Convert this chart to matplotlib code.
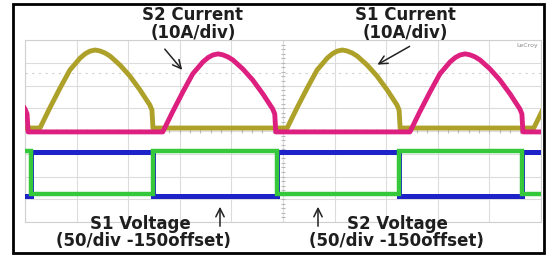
import numpy as np
import matplotlib
matplotlib.use('Agg')
import matplotlib.pyplot as plt
from matplotlib.patches import Rectangle, FancyArrowPatch

W, H = 549, 256

# Oscilloscope screen: 10 horizontal x 8 vertical divisions
n_xdiv, n_ydiv = 10, 8

# Current pulse shape (offset from pulse start in div, height in div)
pulse_t = [0.0, 0.19, 0.39, 0.58, 0.78, 0.88, 0.97, 1.07, 1.16, 1.26, 1.36, 1.55, 1.74, 1.94, 2.13, 2.17, 2.19]
pulse_a = [0.0, 0.88, 1.76, 2.55, 3.08, 3.27, 3.38, 3.43, 3.39, 3.30, 3.16, 2.77, 2.29, 1.67, 1.01, 0.79, 0.0]

# S1 current (yellow) and S2 current (magenta): pulse start times (div) and zero levels (div)
yellow_starts = [0.29, 5.08, 9.86]
magenta_starts = [-2.13, 2.67, 7.46]
yellow_base = 4.13
magenta_base = 3.96

# Switch voltages: switching instants (div) and levels (div)
switch_times = [0.12, 2.48, 4.88, 7.25, 9.63]
blue_levels = [1.14, 3.08]   # low, high
green_levels = [1.23, 3.13]
blue_start_state = 0
green_start_state = 1

# Annotation texts
labels_top = [("S2 Current", "(10A/div)"), ("S1 Current", "(10A/div)")]
labels_bottom = [("S1 Voltage", "(50/div -150offset)"), ("S2 Voltage", "(50/div -150offset)")]

YELLOW = '#ADA12A'
MAGENTA = '#DD1F80'
BLUE = '#1D22C9'
GREEN = '#35C83A'
TXT = '#1e1e1e'


def current_trace(starts, base):
    t = [-3.0]
    v = [base]
    for s in starts:
        t += [s + o for o in pulse_t]
        v += [base + a for a in pulse_a]
    t.append(11.0)
    v.append(base)
    return t, v


def step_trace(times, levels, state):
    t = [-1.0]
    v = [levels[state]]
    for s in times:
        t += [s, s]
        v += [levels[state], levels[1 - state]]
        state = 1 - state
    t.append(11.0)
    v.append(levels[state])
    return t, v


fig = plt.figure(figsize=(W / 100, H / 100), dpi=100)
fig.patch.set_facecolor('white')

# Scope grid axes (pixel box 25..541 x 40..222)
ax = fig.add_axes([25 / W, 1 - 222 / H, 516 / W, 182 / H])
ax.set_xlim(0, n_xdiv)
ax.set_ylim(0, n_ydiv)
ax.set_xticks(range(n_xdiv + 1))
ax.set_yticks(range(n_ydiv + 1))
ax.tick_params(length=0, labelbottom=False, labelleft=False)
ax.grid(True, color='#dcdcdc', lw=0.8)
for sp in ax.spines.values():
    sp.set_color('#d0d0d0')
    sp.set_linewidth(0.8)
ax.set_axisbelow(True)

# center crosshair tick marks
yt = np.arange(0, n_ydiv + 0.01, 0.2)
ax.plot([n_xdiv / 2] * len(yt), yt, ls='none', marker='_', ms=3.5, mew=0.8, color='#b8b8b8', zorder=1)
xt = np.arange(0, n_xdiv + 0.01, 0.2)
ax.plot(xt, [n_ydiv / 2] * len(xt), ls='none', marker='|', ms=3.5, mew=0.8, color='#b8b8b8', zorder=1)
ax.axhline(6.55, color='#cfcfcf', lw=0.8, dashes=(2, 4), zorder=1)

# traces
bt, bv = step_trace(switch_times, blue_levels, blue_start_state)
gt, gv = step_trace(switch_times, green_levels, green_start_state)
ax.plot(bt, bv, color=BLUE, lw=3.6, solid_joinstyle='miter', zorder=3)
ax.plot(gt, gv, color=GREEN, lw=3.2, solid_joinstyle='miter', zorder=4)
yt_, yv_ = current_trace(yellow_starts, yellow_base)
mt_, mv_ = current_trace(magenta_starts, magenta_base)
ax.plot(yt_, yv_, color=YELLOW, lw=3.5, zorder=5, solid_joinstyle='round')
ax.plot(mt_, mv_, color=MAGENTA, lw=3.5, zorder=6, solid_joinstyle='round')

ax.text(0.995, 0.985, 'LeCroy', transform=ax.transAxes, ha='right', va='top',
        fontsize=4.5, color='#8a8a8a')


def fp(x, y):
    return (x / W, 1 - y / H)


# outer black frame
fig.add_artist(Rectangle(fp(12.5, 253), 531 / W, 249 / H, transform=fig.transFigure,
                         fill=False, ec='black', lw=2.0))

fs = 12
top_x = [193, 405]
for (l1, l2), x in zip(labels_top, top_x):
    fig.text(*fp(x, 20.5), l1, ha='center', va='baseline', fontsize=fs, fontweight='bold', color=TXT)
    fig.text(*fp(x, 37.5), l2, ha='center', va='baseline', fontsize=fs, fontweight='bold', color=TXT)

bot_x1 = [140, 397]
bot_x2 = [143, 396]
for (l1, l2), x1, x2 in zip(labels_bottom, bot_x1, bot_x2):
    fig.text(*fp(x1, 229), l1, ha='center', va='baseline', fontsize=fs, fontweight='bold', color=TXT)
    fig.text(*fp(x2, 246.5), l2, ha='center', va='baseline', fontsize=fs, fontweight='bold', color=TXT)

arrows = [((163, 47), (184, 72)), ((412, 45), (375, 66)), ((220, 229), (220, 204)), ((318, 229), (318, 204))]
for a, b in arrows:
    fig.add_artist(FancyArrowPatch(fp(*a), fp(*b), transform=fig.transFigure, arrowstyle='->',
                                   mutation_scale=15, lw=1.1, color='#222222'))

fig.savefig('out.png', dpi=100)
